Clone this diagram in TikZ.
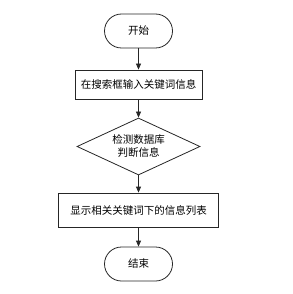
\documentclass[tikz,border=0pt]{standalone}
\usepackage{fontspec}
\newfontfamily\cjk{Noto Sans CJK SC}
\usepackage{tikz}
\usetikzlibrary{shapes.geometric}
\usetikzlibrary{arrows.meta}

\begin{document}
\begin{tikzpicture}[x=1pt,y=-1pt,
    every node/.style={font=\cjk\fontsize{10.5}{13}\selectfont, text=black},
    terminal/.style={draw=black!85, line width=0.8pt, rounded corners=17pt,
        minimum width=68pt, minimum height=34pt, inner sep=0pt},
    process/.style={draw=black!85, line width=0.8pt, rectangle, inner sep=0pt},
    decision/.style={draw=black!85, line width=0.8pt, diamond, aspect=2.16,
        minimum width=123pt, minimum height=57pt, inner sep=0pt, align=center},
    flow/.style={draw=black!85, line width=0.8pt, -{Triangle[length=6pt,width=5pt]}}]
    \useasboundingbox (0,0) rectangle (292,294);

    \node[terminal] (start) at (138.5, 31) {开始};
    \node[process, minimum width=127pt, minimum height=29pt] (input) at (138.5, 84.5) {在搜索框输入关键词信息};
    \node[decision] (check) at (138.5, 146.5) {检测数据库\\判断信息};
    \node[process, minimum width=160pt, minimum height=34pt] (show) at (138.5, 210) {显示相关关键词下的信息列表};
    \node[terminal] (stop) at (138.5, 264) {结束};

    \draw[flow] (start) -- (input);
    \draw[flow] (input) -- (check);
    \draw[flow] (check) -- (show);
    \draw[flow] (show) -- (stop);
\end{tikzpicture}
\end{document}
